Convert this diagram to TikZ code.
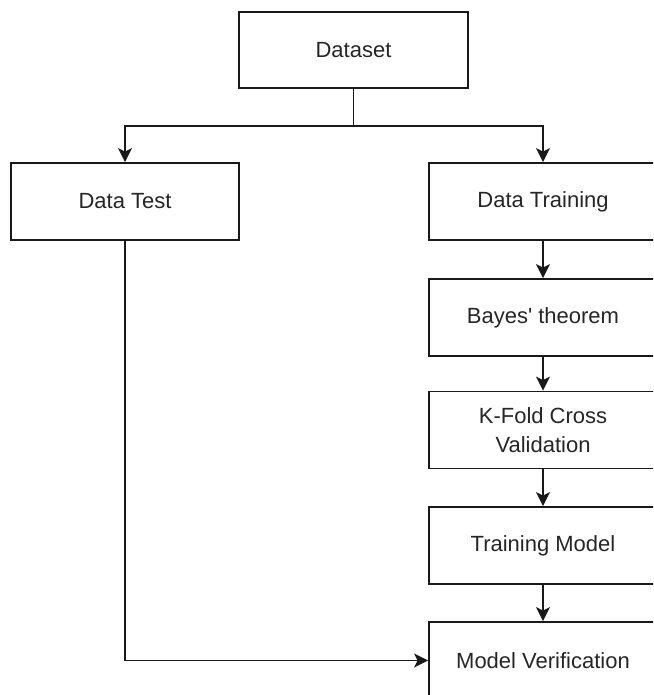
\documentclass[tikz,border=0pt]{standalone}
\usepackage{fontspec}
\setmainfont{Liberation Sans}
\usetikzlibrary{arrows.meta}
\begin{document}
\begin{tikzpicture}[x=1pt,y=-1pt,
  box/.style={draw=black!90, line width=1.8pt, rectangle, minimum width=228pt, minimum height=77pt,
    inner sep=0pt, align=center, text=black!85, font=\fontsize{22}{29}\selectfont},
  conn/.style={draw=black!90, line width=1.8pt},
  arr/.style={conn, -{Stealth[length=14pt,width=14pt,inset=3.5pt]}}]
\useasboundingbox (0,0) rectangle (653,695);
\clip (0,0) rectangle (653,695);
\fill[white] (0,0) rectangle (653,695);
\node[box, minimum width=229pt, minimum height=76pt] (dataset) at (353.5,50) {Dataset};
\node[box] (test) at (125,201.5) {Data Test};
\node[box] (train) at (543,201.5) {Data Training};
\node[box] (bayes) at (543,317.5) {Bayes\textquotesingle\ theorem};
\node[box] (kfold) at (543,430) {K-Fold Cross\\Validation};
\node[box] (tmodel) at (543,545.5) {Training Model};
\node[box] (verif) at (543,660.5) {Model Verification};
\coordinate (split) at (353.5,126);
\draw[conn] (dataset.south) -- (split);
\draw[arr] (split) -| (test.north);
\draw[arr] (split) -| (train.north);
\draw[arr] (train) -- (bayes);
\draw[arr] (bayes) -- (kfold);
\draw[arr] (kfold) -- (tmodel);
\draw[arr] (tmodel) -- (verif);
\draw[arr] (test.south) |- (verif.west);
\end{tikzpicture}
\end{document}
